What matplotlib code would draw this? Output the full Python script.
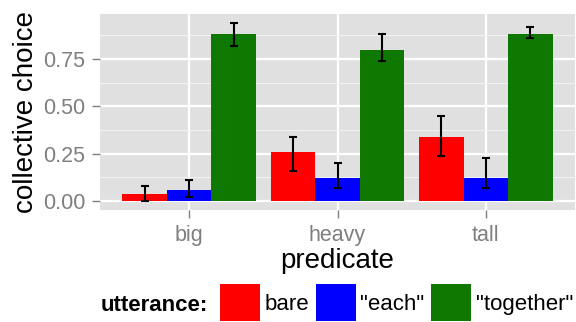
import numpy as np
import matplotlib
matplotlib.use("Agg")
from matplotlib import pyplot as plt
from matplotlib.patches import Patch

plt.rcParams['font.family'] = ['Liberation Sans', 'DejaVu Sans']

# data
predicates = ['big', 'heavy', 'tall']
utterances = ['bare', '"each"', '"together"']
colors = ['#FF0000', '#0000FF', '#0F7800']

bare_mean = [0.04, 0.26, 0.34]
bare_lo = [0.00, 0.16, 0.24]
bare_hi = [0.08, 0.34, 0.45]

each_mean = [0.06, 0.12, 0.12]
each_lo = [0.02, 0.07, 0.07]
each_hi = [0.11, 0.20, 0.23]

together_mean = [0.88, 0.80, 0.88]
together_lo = [0.82, 0.74, 0.86]
together_hi = [0.94, 0.88, 0.92]

means = [bare_mean, each_mean, together_mean]
los = [bare_lo, each_lo, together_lo]
his = [bare_hi, each_hi, together_hi]

fig = plt.figure(figsize=(5.76, 3.22), dpi=100)
ax = fig.add_axes([100/576, 1 - 210/322, 475/576, 196/322])
ax.set_facecolor('#E0E0E0')

x = np.arange(1, len(predicates) + 1)
w = 0.3
for i in range(3):
    pos = x + (i - 1) * w
    m = np.array(means[i])
    ax.bar(pos, m, width=w, color=colors[i], zorder=3)
    yerr = np.vstack([m - np.array(los[i]), np.array(his[i]) - m])
    ax.errorbar(pos, m, yerr=yerr, fmt='none', ecolor='black',
                elinewidth=1.5, capsize=3.2, capthick=1.5, zorder=4)

ax.set_xlim(0.4, 3.6)
ax.set_ylim(-0.047, 0.988)
ax.set_xticks(x)
ax.set_xticklabels(predicates)
ax.set_yticks([0, 0.25, 0.5, 0.75])
ax.set_yticklabels(['0.00', '0.25', '0.50', '0.75'])
ax.set_yticks([0.125, 0.375, 0.625, 0.875], minor=True)

ax.grid(True, which='major', color='white', linewidth=1.6, zorder=1)
ax.grid(True, which='minor', axis='y', color='#F2F2F2', linewidth=0.8, zorder=1)
ax.set_axisbelow(True)
for s in ax.spines.values():
    s.set_visible(False)

ax.tick_params(which='major', length=5.5, width=1, color='#7F7F7F',
               labelcolor='#7F7F7F', labelsize=15.5)
ax.tick_params(axis='y', pad=5)
ax.tick_params(axis='x', pad=5)
ax.tick_params(which='minor', length=0)

ax.set_xlabel('predicate', fontsize=20, labelpad=2)
ax.set_ylabel('collective choice', fontsize=20, labelpad=3)

# legend at the bottom
handles = [Patch(facecolor=c, edgecolor='none') for c in colors]
fig.legend(handles, utterances, loc='upper left',
           bbox_to_anchor=(220/576, 1 - 284/322), ncol=3, frameon=False,
           fontsize=16, borderpad=0, borderaxespad=0,
           handlelength=1.8, handleheight=2.2,
           handletextpad=0.22, columnspacing=0.27)
fig.text(101/576, 1 - 311/322, 'utterance:', fontsize=16,
         fontweight='bold', va='baseline', ha='left')

fig.savefig('out.png', dpi=100)
